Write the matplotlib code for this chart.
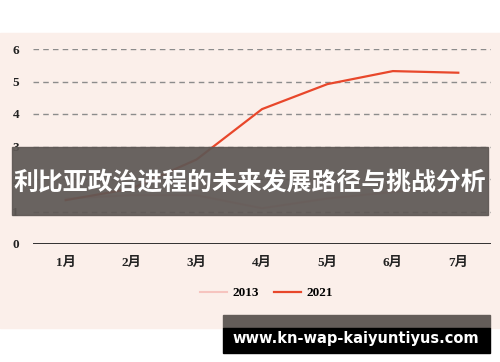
import matplotlib
matplotlib.use('Agg')
import matplotlib.pyplot as plt
from matplotlib.patches import Rectangle

months = ['1月', '2月', '3月', '4月', '5月', '6月', '7月']
s2013 = [1.4, 1.5, 1.5, 1.1, 1.4, 1.6, 1.75]
s2021 = [1.35, 1.7, 2.6, 4.15, 4.92, 5.32, 5.27]
title = '利比亚政治进程的未来发展路径与挑战分析'
site = 'www.kn-wap-kaiyuntiyus.com'

W, H = 500, 362
serif = ['Liberation Serif', 'Noto Sans CJK SC']

fig = plt.figure(figsize=(W / 100, H / 100), dpi=100)
fig.patch.set_facecolor('white')

# pink card behind the chart
fig.patches.append(Rectangle((0, 1 - 328 / H), 1, (328 - 33) / H,
                             transform=fig.transFigure, color='#fbefea', zorder=-5))

ax = fig.add_axes([33 / W, 1 - 244 / H, (491 - 33) / W, (244 - 49) / H])
ax.set_facecolor('none')
x = range(len(months))
ax.plot(x, s2013, color='#f6c4bf', lw=1.5, label='2013', zorder=3)
ax.plot(x, s2021, color='#e8472b', lw=1.6, label='2021', zorder=4)

ax.set_xlim(-0.5, 6.5)
ax.set_ylim(0, 6)
ax.set_yticks(range(7))
for v in range(1, 7):
    ax.axhline(v, color='#8c8c8c', lw=1, ls=(0, (4, 3)), zorder=1)
ax.axhline(0, color='#222222', lw=1.3, zorder=2)
for s in ax.spines.values():
    s.set_visible(False)
ax.tick_params(length=0, pad=9, colors='#222222')
ax.set_xticks(list(x), months)
for lab in ax.get_xticklabels() + ax.get_yticklabels():
    lab.set_family(serif)
    lab.set_fontsize(9.5)
    lab.set_fontweight('bold')
ax.tick_params(axis='y', pad=10)

leg = ax.legend(loc='upper center', bbox_to_anchor=(0.51, -0.16), ncol=2, frameon=False,
                prop={'family': serif, 'size': 9.5, 'weight': 'bold'},
                handlelength=2.0, columnspacing=1.2, handletextpad=0.4)

# title banner across the chart
fig.patches.append(Rectangle((12 / W, 1 - 215 / H), (488 - 12) / W, (215 - 147) / H,
                             transform=fig.transFigure, color='#5e5855', alpha=0.93, zorder=10))
fig.text(250 / W, 1 - 182 / H, title, ha='center', va='center', color='white',
         fontsize=17.9, fontweight='bold', family=['Noto Sans CJK SC', 'DejaVu Sans'], zorder=11)

# site watermark
fig.patches.append(Rectangle((223 / W, 1 - 328 / H), (490 - 223) / W, 13 / H,
                             transform=fig.transFigure, color='#645d59', zorder=10))
fig.patches.append(Rectangle((223 / W, 1 - 353 / H), (490 - 223) / W, 25 / H,
                             transform=fig.transFigure, color='black', zorder=10))
fig.text(356 / W, 1 - 339 / H, site, ha='center', va='center', color='white',
         fontsize=10.5, fontweight='bold', family='DejaVu Sans', zorder=11)

fig.savefig('out.png', dpi=100)
